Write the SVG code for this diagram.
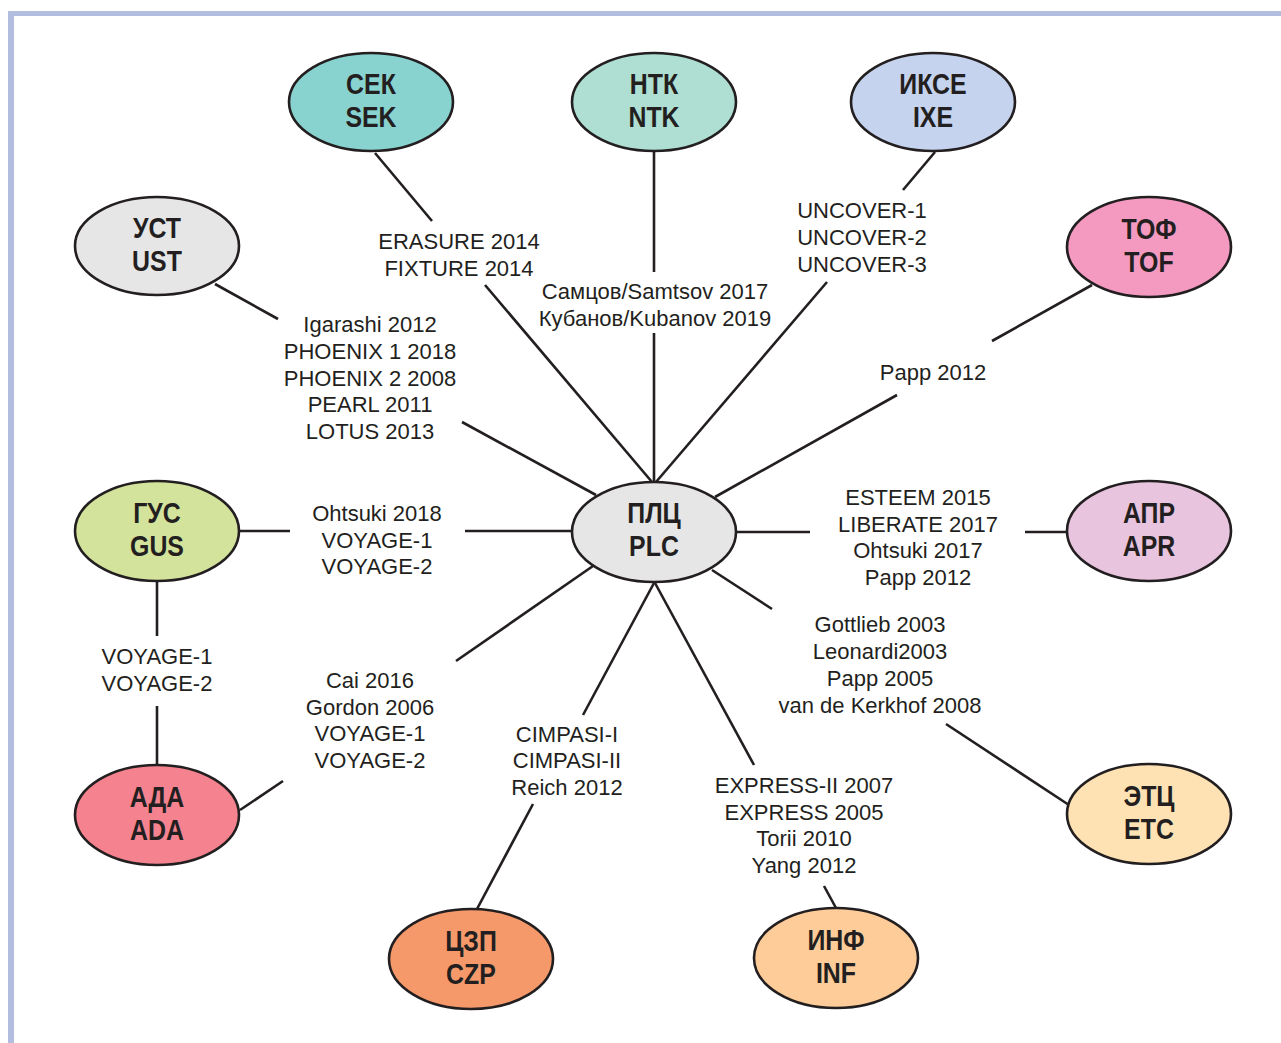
<svg xmlns="http://www.w3.org/2000/svg" width="1281" height="1043" viewBox="0 0 1281 1043">
<style>
.node ellipse{stroke:#231f20;stroke-width:2.6}
.nt{font-family:"Liberation Sans",Arial,sans-serif;font-weight:bold;font-size:30px;fill:#231f20;text-anchor:middle}
.lb{font-family:"Liberation Sans",Arial,sans-serif;font-size:22px;fill:#231f20;text-anchor:middle}
#connectors line{stroke:#231f20;stroke-width:2.6;fill:none}
</style>
<rect x="0" y="0" width="1281" height="1043" fill="#ffffff"/>
<g id="frame" fill="#b3bde0">
<rect x="8" y="11" width="1273" height="5"/>
<rect x="8" y="11" width="6" height="1032"/>
</g>
<g id="connectors">
<line x1="375" y1="153" x2="432" y2="221"/>
<line x1="485" y1="285" x2="652" y2="482"/>
<line x1="654" y1="151" x2="654" y2="272"/>
<line x1="654" y1="333" x2="654" y2="482"/>
<line x1="935" y1="152" x2="903" y2="190"/>
<line x1="827" y1="282" x2="656" y2="482"/>
<line x1="215" y1="284" x2="278" y2="319"/>
<line x1="462" y1="422" x2="596" y2="495"/>
<line x1="1092" y1="285" x2="992" y2="341"/>
<line x1="897" y1="395" x2="715" y2="497"/>
<line x1="240" y1="531" x2="290" y2="531"/>
<line x1="465" y1="531" x2="572" y2="531"/>
<line x1="737" y1="532" x2="810" y2="532"/>
<line x1="1025" y1="532" x2="1067" y2="532"/>
<line x1="712" y1="570" x2="772" y2="609"/>
<line x1="946" y1="724" x2="1069" y2="805"/>
<line x1="157" y1="581" x2="157" y2="636"/>
<line x1="157" y1="706" x2="157" y2="765"/>
<line x1="593" y1="566" x2="456" y2="661"/>
<line x1="283" y1="781" x2="240" y2="810"/>
<line x1="654" y1="583" x2="583" y2="715"/>
<line x1="533" y1="804" x2="477" y2="909"/>
<line x1="655" y1="583" x2="754" y2="765"/>
<line x1="824" y1="886" x2="836" y2="908"/>
</g>
<g id="labels">
<text class="lb"><tspan x="459" y="249">ERASURE 2014</tspan><tspan x="459" y="276">FIXTURE 2014</tspan></text>
<text class="lb"><tspan x="655" y="299">Самцов/Samtsov 2017</tspan><tspan x="655" y="326">Кубанов/Kubanov 2019</tspan></text>
<text class="lb"><tspan x="862" y="218">UNCOVER-1</tspan><tspan x="862" y="245">UNCOVER-2</tspan><tspan x="862" y="272">UNCOVER-3</tspan></text>
<text class="lb"><tspan x="370" y="332">Igarashi 2012</tspan><tspan x="370" y="359">PHOENIX 1 2018</tspan><tspan x="370" y="386">PHOENIX 2 2008</tspan><tspan x="370" y="412">PEARL 2011</tspan><tspan x="370" y="439">LOTUS 2013</tspan></text>
<text class="lb"><tspan x="933" y="380">Papp 2012</tspan></text>
<text class="lb"><tspan x="377" y="521">Ohtsuki 2018</tspan><tspan x="377" y="548">VOYAGE-1</tspan><tspan x="377" y="574">VOYAGE-2</tspan></text>
<text class="lb"><tspan x="918" y="505">ESTEEM 2015</tspan><tspan x="918" y="532">LIBERATE 2017</tspan><tspan x="918" y="558">Ohtsuki 2017</tspan><tspan x="918" y="585">Papp 2012</tspan></text>
<text class="lb"><tspan x="880" y="632">Gottlieb 2003</tspan><tspan x="880" y="659">Leonardi2003</tspan><tspan x="880" y="686">Papp 2005</tspan><tspan x="880" y="713">van de Kerkhof 2008</tspan></text>
<text class="lb"><tspan x="157" y="664">VOYAGE-1</tspan><tspan x="157" y="691">VOYAGE-2</tspan></text>
<text class="lb"><tspan x="370" y="688">Cai 2016</tspan><tspan x="370" y="715">Gordon 2006</tspan><tspan x="370" y="741">VOYAGE-1</tspan><tspan x="370" y="768">VOYAGE-2</tspan></text>
<text class="lb"><tspan x="567" y="742">CIMPASI-I</tspan><tspan x="567" y="768">CIMPASI-II</tspan><tspan x="567" y="795">Reich 2012</tspan></text>
<text class="lb"><tspan x="804" y="793">EXPRESS-II 2007</tspan><tspan x="804" y="820">EXPRESS 2005</tspan><tspan x="804" y="846">Torii 2010</tspan><tspan x="804" y="873">Yang 2012</tspan></text>
</g>
<g id="n-plc" class="node" transform="translate(654,532)"><ellipse rx="82" ry="50" fill="#e6e6e7"/><text class="nt" transform="scale(0.83,1)"><tspan x="0" y="-9">ПЛЦ</tspan><tspan x="0" y="24">PLC</tspan></text></g>
<g id="n-sek" class="node" transform="translate(371,102)"><ellipse rx="82" ry="49" fill="#88d2cf"/><text class="nt" transform="scale(0.83,1)"><tspan x="0" y="-8">СЕК</tspan><tspan x="0" y="25">SEK</tspan></text></g>
<g id="n-ntk" class="node" transform="translate(654,102)"><ellipse rx="82" ry="49" fill="#aedfd2"/><text class="nt" transform="scale(0.83,1)"><tspan x="0" y="-8">НТК</tspan><tspan x="0" y="25">NTK</tspan></text></g>
<g id="n-ixe" class="node" transform="translate(933,102)"><ellipse rx="82" ry="49" fill="#c5d3ee"/><text class="nt" transform="scale(0.83,1)"><tspan x="0" y="-8">ИКСЕ</tspan><tspan x="0" y="25">IXE</tspan></text></g>
<g id="n-ust" class="node" transform="translate(157,246)"><ellipse rx="82" ry="49" fill="#e6e6e7"/><text class="nt" transform="scale(0.83,1)"><tspan x="0" y="-8">УСТ</tspan><tspan x="0" y="25">UST</tspan></text></g>
<g id="n-tof" class="node" transform="translate(1149,247)"><ellipse rx="82" ry="50" fill="#f49ac1"/><text class="nt" transform="scale(0.83,1)"><tspan x="0" y="-8">ТОФ</tspan><tspan x="0" y="25">TOF</tspan></text></g>
<g id="n-gus" class="node" transform="translate(157,531)"><ellipse rx="82" ry="50" fill="#d3e39b"/><text class="nt" transform="scale(0.83,1)"><tspan x="0" y="-8">ГУС</tspan><tspan x="0" y="25">GUS</tspan></text></g>
<g id="n-apr" class="node" transform="translate(1149,531)"><ellipse rx="82" ry="50" fill="#e9c4df"/><text class="nt" transform="scale(0.83,1)"><tspan x="0" y="-8">АПР</tspan><tspan x="0" y="25">APR</tspan></text></g>
<g id="n-ada" class="node" transform="translate(157,815)"><ellipse rx="82" ry="50" fill="#f4838f"/><text class="nt" transform="scale(0.83,1)"><tspan x="0" y="-8">АДА</tspan><tspan x="0" y="25">ADA</tspan></text></g>
<g id="n-etc" class="node" transform="translate(1149,814)"><ellipse rx="82" ry="50" fill="#fee2b4"/><text class="nt" transform="scale(0.83,1)"><tspan x="0" y="-8">ЭТЦ</tspan><tspan x="0" y="25">ETC</tspan></text></g>
<g id="n-czp" class="node" transform="translate(471,959)"><ellipse rx="82" ry="50" fill="#f5996b"/><text class="nt" transform="scale(0.83,1)"><tspan x="0" y="-8">ЦЗП</tspan><tspan x="0" y="25">CZP</tspan></text></g>
<g id="n-inf" class="node" transform="translate(836,958)"><ellipse rx="82" ry="50" fill="#fdcc99"/><text class="nt" transform="scale(0.83,1)"><tspan x="0" y="-8">ИНФ</tspan><tspan x="0" y="25">INF</tspan></text></g>
</svg>
